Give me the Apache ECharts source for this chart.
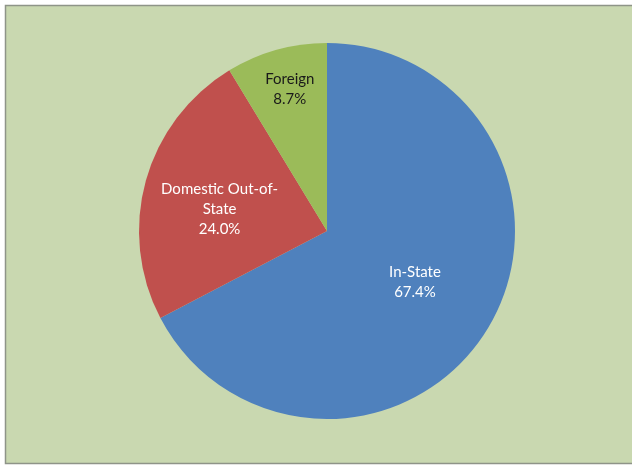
<!DOCTYPE html>
<html>
<head>
<meta charset="utf-8">
<script src="https://cdn.jsdelivr.net/npm/echarts@6/dist/echarts.min.js"></script>
<style>
html,body{margin:0;padding:0;background:#fff;}
#chart{width:632px;height:466px;}
</style>
</head>
<body>
<div id="chart"></div>
<script>
const categories = ["In-State", "Domestic Out-of-\nState", "Foreign"];
const values = [67.4, 24.0, 8.7];
const sliceColors = ["#4F81BD", "#C0504D", "#9BBB59"];
const labelColors = ["#ffffff", "#ffffff", "#1a1a1a"];
const labelShift = [[5, 1], [-14, 4], [-11, -48]];

const chart = echarts.init(document.getElementById('chart'), null, {renderer: 'canvas'});
chart.setOption({
  backgroundColor: '#ffffff',
  animation: false,
  graphic: [{
    type: 'rect',
    shape: {x: 5.5, y: 5.5, width: 640, height: 458},
    style: {fill: '#C9D8B0', stroke: '#8E9488', lineWidth: 1.5},
    z: -10
  }],
  series: [{
    type: 'pie',
    center: [327, 231],
    radius: [0, 188],
    startAngle: 90,
    clockwise: true,
    avoidLabelOverlap: false,
    itemStyle: {borderWidth: 0},
    label: {
      show: true,
      position: 'inside',
      fontFamily: 'Lato, "Open Sans", sans-serif',
      fontSize: 15,
      lineHeight: 20,
      align: 'center',
      formatter: function (p) { return p.name + '\n' + p.value.toFixed(1) + '%'; }
    },
    labelLine: {show: false},
    labelLayout: function (p) {
      const s = labelShift[p.dataIndex];
      return {dx: s[0], dy: s[1]};
    },
    emphasis: {disabled: true},
    data: categories.map((c, i) => ({
      name: c,
      value: values[i],
      itemStyle: {color: sliceColors[i]},
      label: {color: labelColors[i]}
    }))
  }]
});
</script>
</body>
</html>
